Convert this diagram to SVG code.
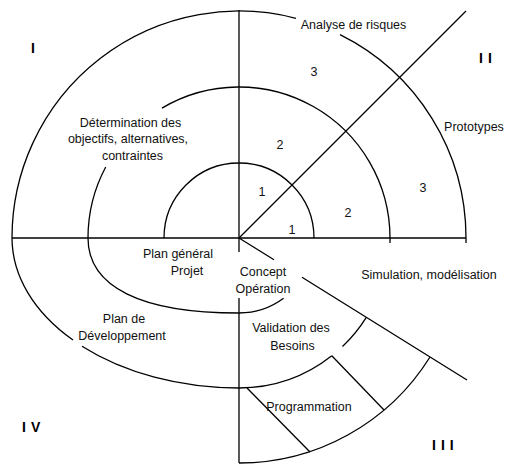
<svg xmlns="http://www.w3.org/2000/svg" width="509" height="464" viewBox="0 0 509 464">
  <style>
    .ln { fill: none; stroke: #000; stroke-width: 1.3; stroke-linecap: butt; }
    .lbl { font-family: "Liberation Sans", Arial, sans-serif; font-size: 12.5px; fill: #111; text-anchor: middle; }
    .num { font-family: "Liberation Sans", Arial, sans-serif; font-size: 12.5px; fill: #111; text-anchor: middle; }
    .quad { font-family: "Liberation Sans", Arial, sans-serif; font-size: 14px; font-weight: bold; fill: #000; letter-spacing: 5px; }
  </style>
  <rect width="509" height="464" fill="#fff"/>

  <!-- axes and sector boundaries -->
  <g id="connectors">
    <path class="ln" d="M12,238 H466"/>
    <path class="ln" d="M239,10 V252 M239,298 V463"/>
    <path class="ln" d="M239,238 L466,11"/>
    <path class="ln" d="M239,238 L274,259.8 M302,277.2 L467,380"/>
    <path class="ln" d="M390,238 V243 M466,238 V243"/>
  </g>

  <!-- spiral turns -->
  <g id="spiral">
    <!-- turn 1 -->
    <path class="ln" d="M164,238 A75,75 0 0 1 314,238"/>
    <!-- turn 2 (upper) -->
    <path class="ln" d="M88,238 A151,151 0 0 1 105.7,167"/>
    <path class="ln" d="M162,108.1 A151,151 0 0 1 390,238"/>
    <!-- turn 2 (lower) back to turn 1 -->
    <path class="ln" d="M88,238 C88,286.8 140.9,313 239,313 A75,75 0 0 0 283.6,298.3"/>
    <!-- turn 3 (upper) -->
    <path class="ln" d="M12,238 A227,227 0 0 1 296,18.3"/>
    <path class="ln" d="M340,34.7 A227,227 0 0 1 466,238"/>
    <!-- turn 3 (lower) back to turn 2 -->
    <path class="ln" d="M12,238 A227,150 0 0 0 73,340"/>
    <path class="ln" d="M82,346.3 A227,150 0 0 0 239,388 A150,150 0 0 0 331.8,355.8"/>
    <path class="ln" d="M342.5,346.5 A150,150 0 0 0 366.3,317.3"/>
    <!-- outer lower turn -->
    <path class="ln" d="M239,463 A225,225 0 0 0 430,357"/>
    <!-- development steps -->
    <path class="ln" d="M247,388 L310,452"/>
    <path class="ln" d="M331.8,355.8 L384,410"/>
  </g>

  <!-- quadrant numerals -->
  <g id="quadrants">
    <text class="quad" x="31" y="53">I</text>
    <text class="quad" x="479" y="63">II</text>
    <text class="quad" x="432" y="450">III</text>
    <text class="quad" x="22" y="432">IV</text>
  </g>

  <g id="node-analyse">
    <text class="lbl" x="353.5" y="29">Analyse de risques</text>
  </g>
  <g id="node-determination">
    <text class="lbl" x="130.5" y="127">Détermination des</text>
    <text class="lbl" x="128" y="143">objectifs, alternatives,</text>
    <text class="lbl" x="132.5" y="160">contraintes</text>
  </g>
  <g id="node-prototypes">
    <text class="lbl" x="474" y="131">Prototypes</text>
  </g>
  <g id="node-plan-general">
    <text class="lbl" x="178" y="258">Plan général</text>
    <text class="lbl" x="187" y="275">Projet</text>
  </g>
  <g id="node-concept">
    <text class="lbl" x="263" y="276">Concept</text>
    <text class="lbl" x="263" y="293">Opération</text>
  </g>
  <g id="node-simulation">
    <text class="lbl" x="429" y="279">Simulation, modélisation</text>
  </g>
  <g id="node-plan-dev">
    <text class="lbl" x="124" y="322.5">Plan de</text>
    <text class="lbl" x="122" y="339.5">Développement</text>
  </g>
  <g id="node-validation">
    <text class="lbl" x="291" y="332">Validation des</text>
    <text class="lbl" x="292.5" y="349.5">Besoins</text>
  </g>
  <g id="node-programmation">
    <text class="lbl" x="309" y="411">Programmation</text>
  </g>

  <!-- turn numbers -->
  <g id="turn-numbers">
    <text class="num" x="314" y="76">3</text>
    <text class="num" x="280" y="149">2</text>
    <text class="num" x="423" y="192">3</text>
    <text class="num" x="262" y="196">1</text>
    <text class="num" x="348" y="217">2</text>
    <text class="num" x="292" y="234">1</text>
  </g>
</svg>
